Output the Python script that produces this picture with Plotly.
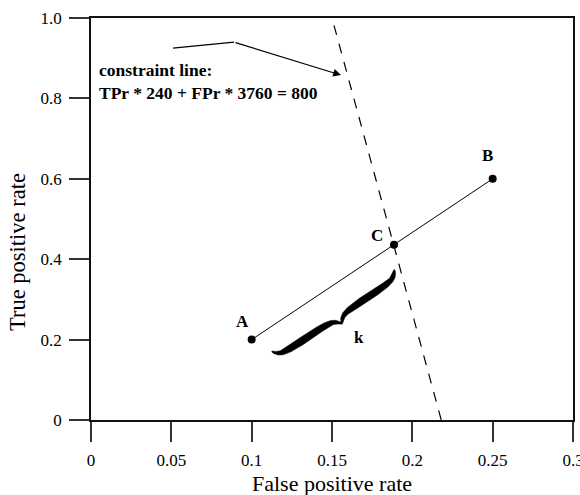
import numpy as np
import plotly.graph_objects as go

# ---- data ----
point_names = ["A", "C", "B"]
point_fpr = [0.1, 0.1886, 0.25]
point_tpr = [0.2, 0.436, 0.6]

constraint_fpr = [0.218, 0.15]
constraint_tpr = [0.0, 1.0]

arrow_fpr = [0.051, 0.089, 0.1556]
arrow_tpr = [0.925, 0.940, 0.858]

label_names = ["A", "B", "C", "k"]
label_fpr = [0.094, 0.247, 0.178, 0.1668]
label_tpr = [0.246, 0.657, 0.460, 0.206]

x_ticks = [0, 0.05, 0.1, 0.15, 0.2, 0.25, 0.3]
x_ticktext = ["0", "0.05", "0.1", "0.15", "0.2", "0.25", "0.3"]
y_ticks = [0, 0.2, 0.4, 0.6, 0.8, 1.0]
y_ticktext = ["0", "0.2", "0.4", "0.6", "0.8", "1.0"]

note_text = "<b>constraint line:<br>TPr * 240 + FPr * 3760 = 800</b>"
x_title = "False positive rate"
y_title = "True positive rate"

# ---- layout geometry ----
W, H = 580, 495
ML, MR, MT, MB = 91, 7, 18, 75
XR = [0, 0.3]
YR = [0, 1.0]
sx = (W - ML - MR) / (XR[1] - XR[0])
sy = (H - MT - MB) / (YR[1] - YR[0])

FONT = "Liberation Serif, Times New Roman, serif"

fig = go.Figure()

# constraint (dashed) line
fig.add_trace(go.Scatter(x=constraint_fpr, y=constraint_tpr, mode="lines",
                         line=dict(color="black", width=1.2, dash="10px,9px"),
                         hoverinfo="skip"))

# line A-B with points
fig.add_trace(go.Scatter(x=[point_fpr[0], point_fpr[2]], y=[point_tpr[0], point_tpr[2]],
                         mode="lines", line=dict(color="black", width=1),
                         hoverinfo="skip"))
fig.add_trace(go.Scatter(x=point_fpr, y=point_tpr, mode="markers",
                         marker=dict(color="black", size=8), text=point_names,
                         hoverinfo="text"))

# arrow first segment
fig.add_trace(go.Scatter(x=arrow_fpr[:2], y=arrow_tpr[:2], mode="lines",
                         line=dict(color="black", width=1.2), hoverinfo="skip"))
# arrow second segment with head
fig.add_annotation(x=arrow_fpr[2], y=arrow_tpr[2], ax=arrow_fpr[1], ay=arrow_tpr[1],
                   xref="x", yref="y", axref="x", ayref="y", text="",
                   showarrow=True, arrowhead=2, arrowsize=1.3, arrowwidth=1.2,
                   arrowcolor="black")

# ---- brace below segment A-C (computed from A and C) ----
def to_px(x, y):
    return np.array([x * sx, -y * sy])

def to_data(p):
    return p[0] / sx, -p[1] / sy

Apx = to_px(point_fpr[0], point_tpr[0])
Cpx = to_px(point_fpr[1], point_tpr[1])
d = Cpx - Apx
L = np.hypot(*d)
t = d / L
n = np.array([-t[1], t[0]])  # points away from segment (down-right on screen)
offset, depth = 21.0, 16.0
P0 = Apx + t * (0.06 * L) + n * offset
P1 = Apx + t * (0.92 * L) + n * offset
s = np.linspace(0, 1, 401)
u = np.where(s < 0.5, s / 0.5, (1 - s) / 0.5)
k = 0.06
v = depth * (0.5 * (1 - np.exp(-u / k)) + 0.5 * np.exp(-(1 - u) / k))
center = P0[None, :] + s[:, None] * (P1 - P0)[None, :] + v[:, None] * n[None, :]
g = np.gradient(center, axis=0)
g = g / np.hypot(g[:, 0], g[:, 1])[:, None]
nc = np.stack([-g[:, 1], g[:, 0]], axis=1)
w = 0.8 + 6.8 * np.sin(np.pi * u) ** 0.5
left = center + nc * (w / 2)[:, None]
right = center - nc * (w / 2)[:, None]
poly = np.vstack([left, right[::-1], left[:1]])
bx, by = to_data(poly.T)
fig.add_trace(go.Scatter(x=bx, y=by, mode="lines", fill="toself", fillcolor="black",
                         line=dict(color="black", width=0.5), hoverinfo="skip"))

# point labels
for name, lx, ly in zip(label_names, label_fpr, label_tpr):
    fig.add_annotation(x=lx, y=ly, xref="x", yref="y", text="<b>%s</b>" % name,
                       showarrow=False, font=dict(family=FONT, size=17, color="black"))

# constraint note
fig.add_annotation(x=0.0035, y=0.841, xref="x", yref="y", text=note_text,
                   showarrow=False, xanchor="left", yanchor="middle", align="left",
                   font=dict(family=FONT, size=17.5, color="black"))

# axis titles
fig.add_annotation(x=0.5, y=0, xref="paper", yref="paper", yshift=-63,
                   text=x_title, showarrow=False, xanchor="center", yanchor="middle",
                   font=dict(family=FONT, size=22, color="black"))
fig.add_annotation(x=0, y=0.418, xref="paper", yref="paper", xshift=-73,
                   text=y_title, textangle=-90, showarrow=False,
                   xanchor="center", yanchor="middle",
                   font=dict(family=FONT, size=22.5, color="black"))

axis_common = dict(showline=True, linecolor="#111", linewidth=1.5, mirror=True,
                   ticks="outside", ticklen=20, tickwidth=1.5, tickcolor="#333",
                   showgrid=False, zeroline=False, automargin=False,
                   ticklabelstandoff=4, ticklabeloverflow="allow",
                   tickfont=dict(family=FONT, size=17, color="black"))

fig.update_layout(
    width=W, height=H,
    margin=dict(l=ML, r=MR, t=MT, b=MB),
    paper_bgcolor="white", plot_bgcolor="white",
    showlegend=False,
    xaxis=dict(range=XR, tickvals=x_ticks, ticktext=x_ticktext, **axis_common),
    yaxis=dict(range=YR, tickvals=y_ticks, ticktext=y_ticktext, **axis_common),
)

fig.write_html("out.html", config={"displayModeBar": False},
               post_script="document.body.style.margin='0';document.body.style.padding='0';")
